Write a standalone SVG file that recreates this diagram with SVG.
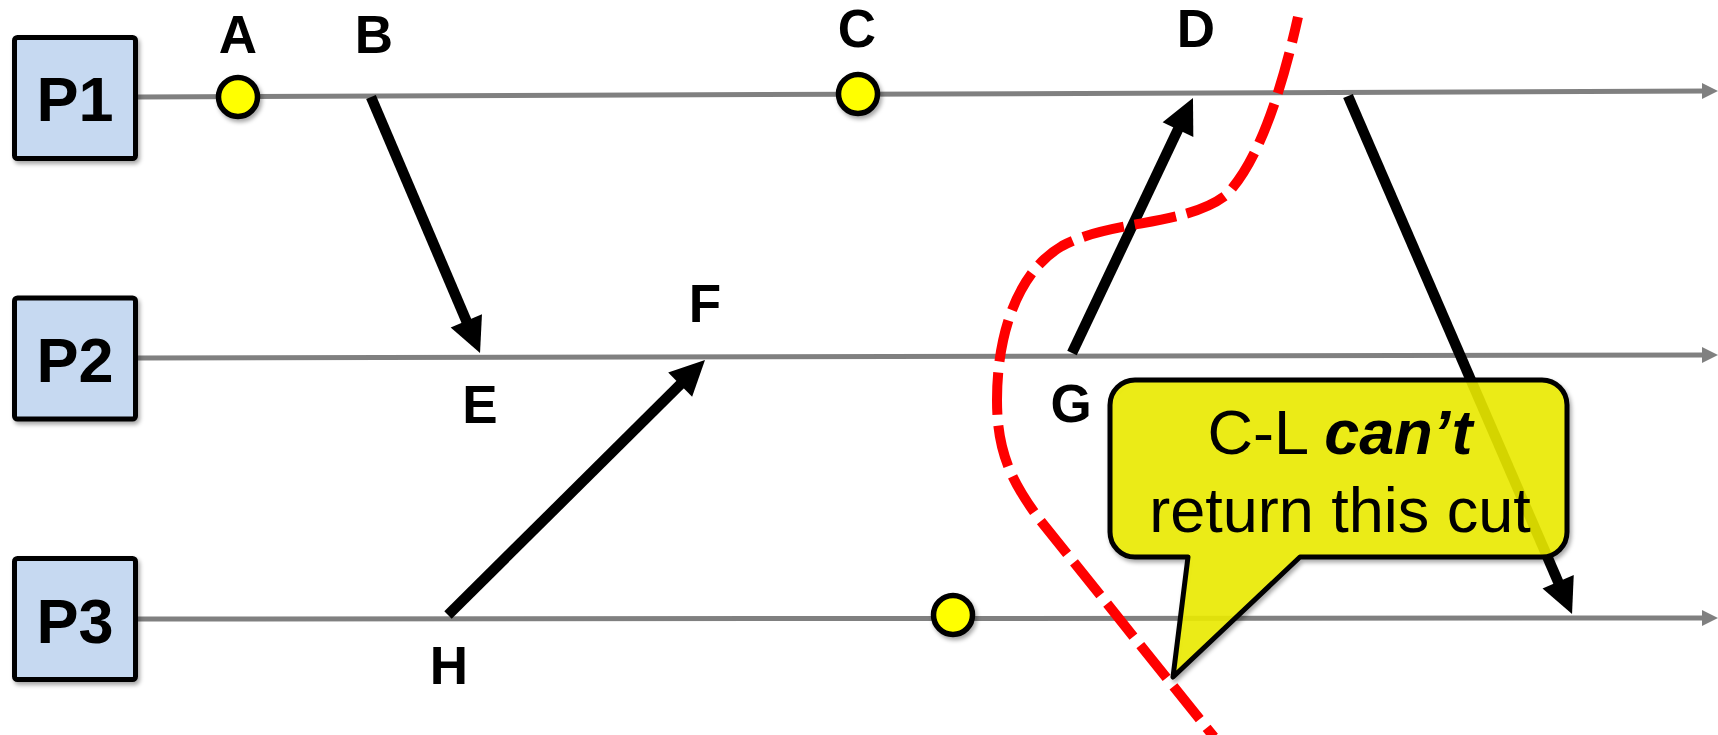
<svg xmlns="http://www.w3.org/2000/svg" width="1718" height="735" viewBox="0 0 1718 735">
<defs>
<style>
.box{fill:#C6D9F1;stroke:#000;stroke-width:5}
.ptxt{font-family:"Liberation Sans",Arial,sans-serif;font-weight:bold;font-size:63px;text-anchor:middle;fill:#000}
.lbl{font-family:"Liberation Sans",Arial,sans-serif;font-weight:bold;font-size:53px;text-anchor:middle;fill:#000}
.tl{stroke:#808080;stroke-width:5;fill:none}
.ev{fill:#FFFF00;stroke:#000;stroke-width:5.5}
.msg{stroke:#000;stroke-width:10.5;fill:none;stroke-linecap:butt}
.cut{stroke:#FF0000;stroke-width:10;fill:none;stroke-dasharray:42 11;stroke-dashoffset:16}
.note{fill:#EEEE00;fill-opacity:0.87;stroke:#000;stroke-width:5;stroke-linejoin:round}
.ntxt{font-family:"Liberation Sans",Arial,sans-serif;font-size:63px;text-anchor:middle;fill:#000}
</style>
<filter id="sh" x="-20%" y="-20%" width="150%" height="150%">
<feDropShadow dx="2" dy="3" stdDeviation="2" flood-color="#000" flood-opacity="0.35"/>
</filter>
<marker id="tl-arrow" markerUnits="userSpaceOnUse" viewBox="0 -8 16 16" markerWidth="16" markerHeight="16" refX="6" refY="0" orient="auto" overflow="visible">
<path d="M0,-8 L16,0 L0,8 z" fill="#808080"/>
</marker>
<marker id="msg-arrow" markerUnits="userSpaceOnUse" viewBox="0 -17 35 34" markerWidth="35" markerHeight="34" refX="15" refY="0" orient="auto" overflow="visible">
<path d="M0,-17 L35,0 L0,17 z" fill="#000"/>
</marker>
</defs>
<rect width="1718" height="735" fill="#fff"/>

<g id="timelines">
<line class="tl" x1="137" y1="97" x2="1708" y2="91" marker-end="url(#tl-arrow)"/>
<line class="tl" x1="137" y1="358" x2="1708" y2="355" marker-end="url(#tl-arrow)"/>
<line class="tl" x1="137" y1="619" x2="1708" y2="618" marker-end="url(#tl-arrow)"/>
</g>

<g id="P1"><rect class="box" x="14.5" y="37.5" width="121" height="121" rx="3" filter="url(#sh)"/><text class="ptxt" x="75" y="121">P1</text></g>
<g id="P2"><rect class="box" x="14.5" y="298" width="121" height="121" rx="3" filter="url(#sh)"/><text class="ptxt" x="75" y="382">P2</text></g>
<g id="P3"><rect class="box" x="14.5" y="558.5" width="121" height="121" rx="3" filter="url(#sh)"/><text class="ptxt" x="75" y="643">P3</text></g>

<g id="events">
<circle id="evA" class="ev" cx="238" cy="97" r="19.5" filter="url(#sh)"/>
<circle id="evC" class="ev" cx="858" cy="94" r="19.5" filter="url(#sh)"/>
<circle id="evP3" class="ev" cx="953" cy="615" r="19.5" filter="url(#sh)"/>
</g>

<g id="labels">
<text class="lbl" x="238" y="53">A</text>
<text class="lbl" x="374" y="53">B</text>
<text class="lbl" x="857" y="47">C</text>
<text class="lbl" x="1196" y="47">D</text>
<text class="lbl" x="480" y="423">E</text>
<text class="lbl" x="705" y="322">F</text>
<text class="lbl" x="1071" y="422">G</text>
<text class="lbl" x="449" y="684">H</text>
</g>

<g id="connectors">
<line class="msg" x1="371" y1="97" x2="472.2" y2="334.6" marker-end="url(#msg-arrow)"/>
<line class="msg" x1="448" y1="615" x2="690.8" y2="374.1" marker-end="url(#msg-arrow)"/>
<line class="msg" x1="1072" y1="353" x2="1184.4" y2="116.1" marker-end="url(#msg-arrow)"/>
<line class="msg" x1="1348" y1="96" x2="1564.1" y2="595.6" marker-end="url(#msg-arrow)"/>
</g>

<g id="cut">
<path class="cut" d="M1298,17 C1285,75 1262,160 1225,196 C1185,226 1110,220 1062,246 C1020,270 997,330 997,400 C997,450 1010,480 1040,520 L1214,737"/>
</g>

<g id="callout">
<path class="note" filter="url(#sh)" d="M1135,380 H1542 A25,25 0 0 1 1567,405 V532 A25,25 0 0 1 1542,557 H1300 L1173,677 L1188,557 H1135 A25,25 0 0 1 1110,532 V405 A25,25 0 0 1 1135,380 Z"/>
<text class="ntxt" x="1340" y="454">C-L <tspan font-weight="bold" font-style="italic">can’t</tspan></text>
<text class="ntxt" x="1340" y="532">return this cut</text>
</g>
</svg>
